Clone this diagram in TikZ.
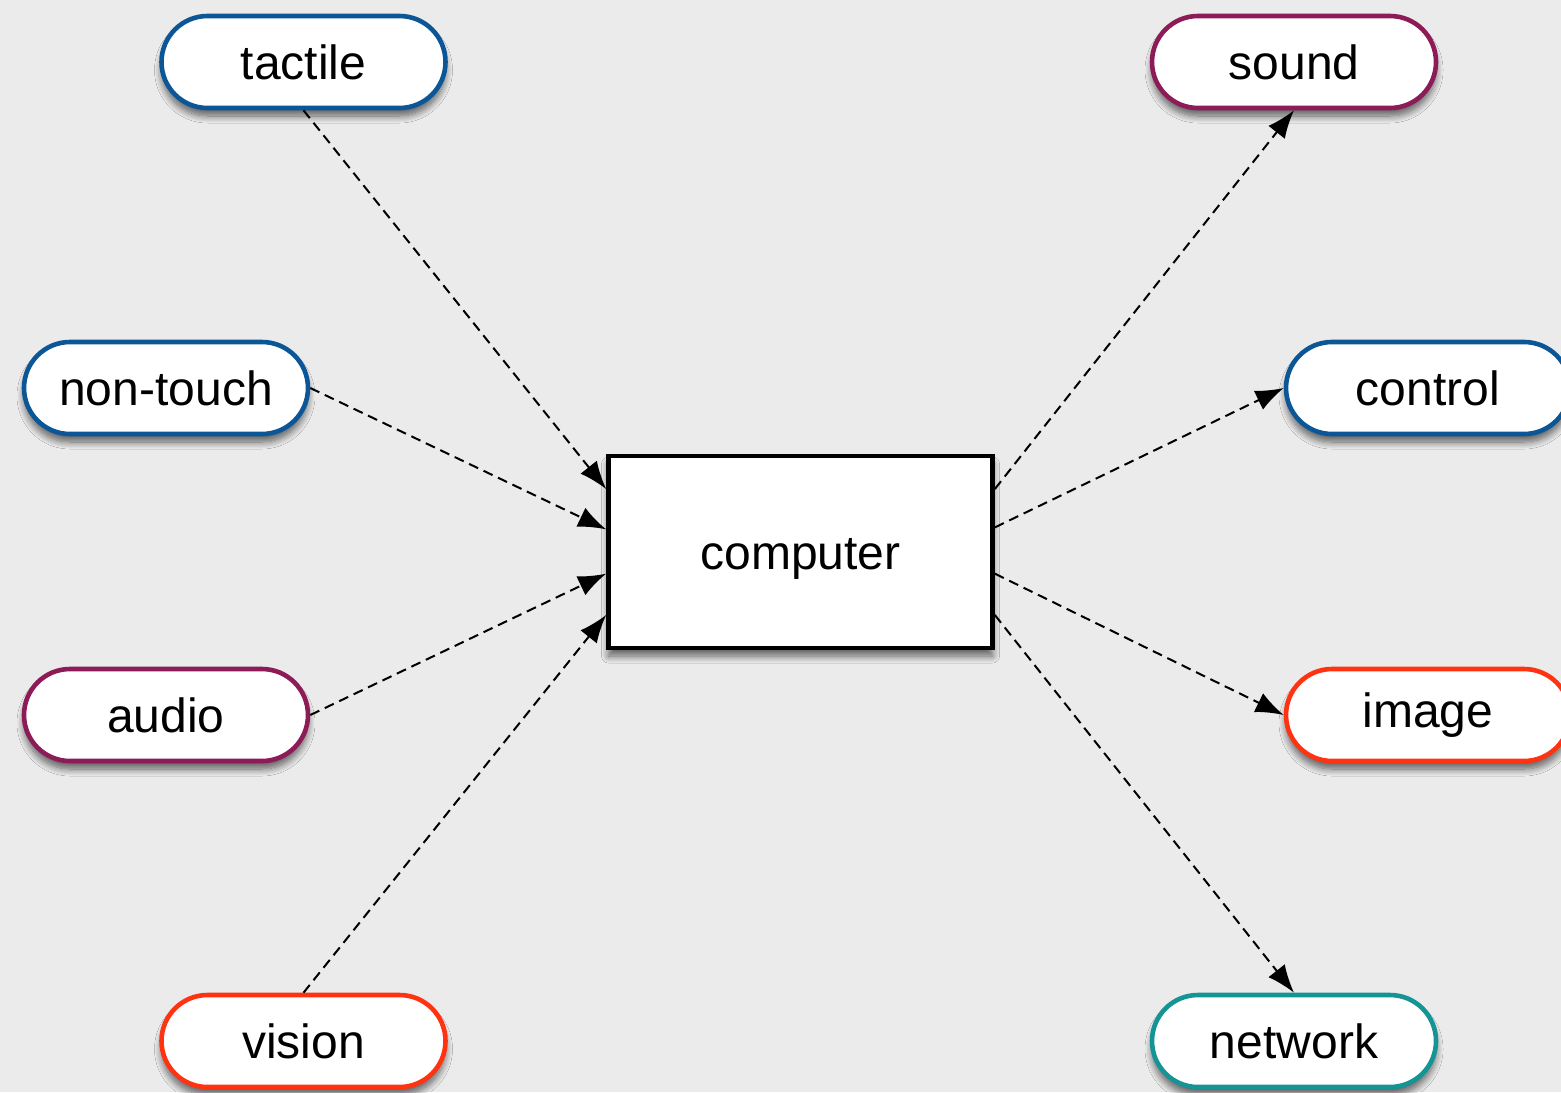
\documentclass[tikz,border=0pt]{standalone}
\usepackage{fontspec}
\setmainfont{Liberation Sans}
\usetikzlibrary{shadows.blur,arrows.meta,calc}
\definecolor{bg}{HTML}{EBEBEB}
\definecolor{cblue}{HTML}{0B5696}
\definecolor{cpurple}{HTML}{8C1B57}
\definecolor{cred}{HTML}{FF3311}
\definecolor{cteal}{HTML}{149494}
\tikzset{
  softshadow/.style={blur shadow={shadow xshift=0pt, shadow yshift=-4pt, shadow blur radius=3.5pt, shadow blur steps=10, shadow opacity=60}},
  pill/.style={draw=#1, line width=2.3pt, fill=white, rounded corners=23pt,
    minimum width=142pt, minimum height=46pt, inner sep=0pt,
    font=\fontsize{24}{28}\selectfont, softshadow},
  compbox/.style={draw=black, line width=2.3pt, fill=white,
    minimum width=192pt, minimum height=96pt, inner sep=0pt,
    text height=22pt, text depth=5pt,
    font=\fontsize{24}{28}\selectfont, softshadow},
  link/.style={dash pattern=on 5pt off 3pt, line width=1pt,
    -{Latex[length=14pt,width=10.5pt]}}
}
\begin{document}
\begin{tikzpicture}[x=0.5pt,y=0.5pt]
\fill[bg] (0,0) rectangle (1561,-1092);
\useasboundingbox (0,0) rectangle (1561,-1092);
\node[compbox] (comp) at (800.5,-552) {computer};
\node[pill=cblue] (tactile) at (303.5,-62) {tactile};
\node[pill=cblue] (nontouch) at (166,-388) {non-touch};
\node[pill=cpurple] (audio) at (166,-715) {audio};
\node[pill=cred] (vision) at (303.5,-1041) {vision};
\node[pill=cpurple] (sound) at (1294,-62) {sound};
\node[pill=cblue] (control) at (1428,-388) {control};
\node[pill=cred] (image) at (1428,-715) {image};
\node[pill=cteal] (network) at (1294,-1041) {network};
\coordinate (l1) at ($(comp.north west)!0.18!(comp.south west)$);
\coordinate (l2) at ($(comp.north west)!0.385!(comp.south west)$);
\coordinate (l3) at ($(comp.north west)!0.61!(comp.south west)$);
\coordinate (l4) at ($(comp.north west)!0.82!(comp.south west)$);
\coordinate (r1) at ($(comp.north east)!0.18!(comp.south east)$);
\coordinate (r2) at ($(comp.north east)!0.375!(comp.south east)$);
\coordinate (r3) at ($(comp.north east)!0.61!(comp.south east)$);
\coordinate (r4) at ($(comp.north east)!0.82!(comp.south east)$);
\draw[link] (tactile.south) -- (l1);
\draw[link] (nontouch.east) -- (l2);
\draw[link] (audio.east) -- (l3);
\draw[link] (vision.north) -- (l4);
\draw[link] (r1) -- (sound.south);
\draw[link] (r2) -- (control.west);
\draw[link] (r3) -- (image.west);
\draw[link] (r4) -- (network.north);
\end{tikzpicture}
\end{document}
